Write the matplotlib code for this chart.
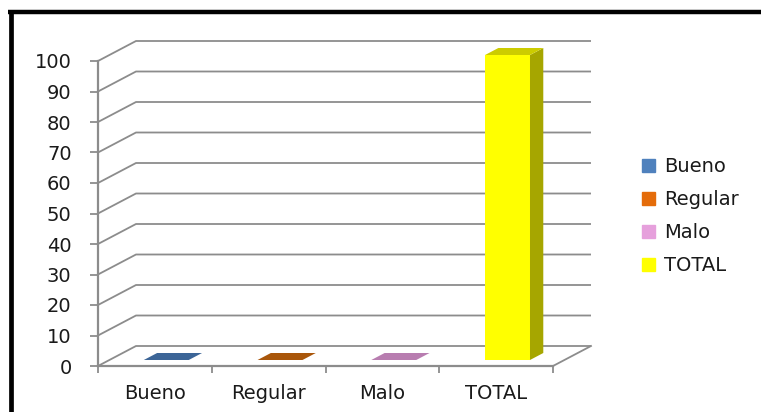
import matplotlib
matplotlib.use("Agg")
import matplotlib.pyplot as plt
from matplotlib.patches import Polygon
from matplotlib.lines import Line2D
import numpy as np

categories = ["Bueno", "Regular", "Malo", "TOTAL"]
values = [0, 0, 0, 100]
front_colors = ["#4F81BD", "#E46C0A", "#E6A0DC", "#FFFF00"]
side_colors = ["#2F4F78", "#8A4106", "#9A6A92", "#A6A600"]
top_colors = ["#3C6597", "#A9560A", "#B87DB0", "#CCCC00"]
yticks = np.arange(0, 101, 10)

W, H = 761, 412
fig = plt.figure(figsize=(W / 100, H / 100), dpi=100)
# front plane of the pseudo-3D box
ax = fig.add_axes([98 / W, 1 - 366 / H, (553 - 98) / W, (366 - 61) / H])
ax.set_xlim(0, len(categories))
ax.set_ylim(0, 100)
ax.patch.set_alpha(0)

# depth offsets in data units (box depth) and bar placement inside it
px_x = (553 - 98) / len(categories)
px_y = (366 - 61) / 100
dxd, dyd = 38 / px_x, 20 / px_y
f1, f2 = 0.3, 0.65
bw = 0.395

grid_c = "#8c8c8c"
n = len(categories)
for v in yticks:
    ax.plot([0, dxd, n + dxd], [v, v + dyd, v + dyd], color=grid_c, lw=1.3,
            clip_on=False, zorder=1, solid_capstyle="butt")
ax.plot([n, n + dxd], [0, dyd], color=grid_c, lw=1.3, clip_on=False, zorder=1)

centers = np.arange(n) + 0.5
for i, (c, v) in enumerate(zip(centers, values)):
    x0 = c - bw / 2 + f1 * dxd
    x1 = x0 + bw
    b = f1 * dyd
    ddx, ddy = (f2 - f1) * dxd, (f2 - f1) * dyd
    ax.bar(x0, v, width=bw, bottom=b, align="edge", color=front_colors[i],
           zorder=3, clip_on=False, linewidth=0)
    side = [(x1, b), (x1 + ddx, b + ddy), (x1 + ddx, b + v + ddy), (x1, b + v)]
    ax.add_patch(Polygon(side, closed=True, facecolor=side_colors[i],
                         edgecolor="none", zorder=3, clip_on=False))
    top = [(x0, b + v), (x1, b + v), (x1 + ddx, b + v + ddy), (x0 + ddx, b + v + ddy)]
    ax.add_patch(Polygon(top, closed=True, facecolor=top_colors[i],
                         edgecolor="none", zorder=3, clip_on=False))

for s in ["top", "right"]:
    ax.spines[s].set_visible(False)
for s in ["left", "bottom"]:
    ax.spines[s].set_color(grid_c)
    ax.spines[s].set_linewidth(1.6)

ax.set_yticks(yticks)
ax.tick_params(axis="y", length=6, width=1.3, color=grid_c, pad=13,
               labelsize=14, labelcolor="#1a1a1a")
ax.set_xticks(centers)
ax.set_xticklabels(categories)
ax.set_xticks(np.arange(n + 1), minor=True)
ax.tick_params(axis="x", which="major", length=0, pad=13, labelsize=14,
               labelcolor="#1a1a1a")
ax.tick_params(axis="x", which="minor", length=5, width=1.3, color=grid_c)

handles = [plt.Rectangle((0, 0), 1, 1, color=c) for c in front_colors]
fig.legend(handles, categories, loc="center left",
           bbox_to_anchor=(642 / W, 1 - 216 / H), frameon=False,
           handlelength=0.65, handleheight=0.65, handletextpad=0.5,
           labelspacing=0.72, borderpad=0, borderaxespad=0,
           prop={"size": 14}, labelcolor="#1a1a1a")

# black frame (top and left edges visible in the picture)
fig.add_artist(Line2D([8 / W, 1], [1 - 11.5 / H, 1 - 11.5 / H], color="black",
                      lw=3.2, solid_capstyle="butt", transform=fig.transFigure))
fig.add_artist(Line2D([11 / W, 11 / W], [0, 1 - 10 / H], color="black",
                      lw=3.4, solid_capstyle="butt", transform=fig.transFigure))

fig.savefig("out.png", dpi=100)
